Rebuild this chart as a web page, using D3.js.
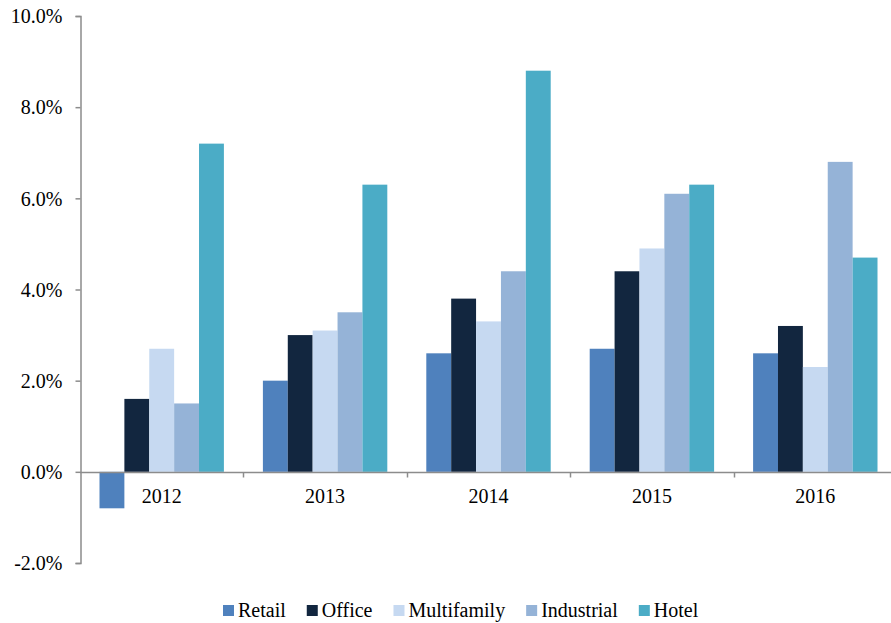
<!DOCTYPE html>
<html>
<head>
<meta charset="utf-8">
<script src="https://cdn.jsdelivr.net/npm/d3@7/dist/d3.min.js"></script>
<style>
  html, body { margin: 0; padding: 0; background: #fff; }
  svg { display: block; }
  svg text { font-family: "Liberation Serif", "Times New Roman", serif !important; fill: #000; }
</style>
</head>
<body>
<div id="chart"></div>
<script>
// Annual growth by property type, 2012–2016 (percent)
const years = ["2012", "2013", "2014", "2015", "2016"];
const seriesNames = ["Retail", "Office", "Multifamily", "Industrial", "Hotel"];
const retail      = [-0.8, 2.0, 2.6, 2.7, 2.6];
const office      = [1.6, 3.0, 3.8, 4.4, 3.2];
const multifamily = [2.7, 3.1, 3.3, 4.9, 2.3];
const industrial  = [1.5, 3.5, 4.4, 6.1, 6.8];
const hotel       = [7.2, 6.3, 8.8, 6.3, 4.7];
const colors = ["#4F81BD", "#12263F", "#C6D9F1", "#95B3D7", "#4BACC6"];
const yTicks = [-2, 0, 2, 4, 6, 8, 10];

const seriesValues = [retail, office, multifamily, industrial, hotel];

const W = 891, H = 623;
const FS = 20;
const FONT = "'Liberation Serif', 'Times New Roman', serif";
const svg = d3.select("#chart").append("svg").attr("width", W).attr("height", H);

const x0 = d3.scaleBand().domain(years).range([80, 897]).padding(0);
const bw = x0.bandwidth();
const x1 = d3.scaleBand().domain(seriesNames).range([19.5, bw - 19.5]).padding(0);
const y = d3.scaleLinear().domain([-2, 10]).range([563, 16]);

const axisColor = "#8c8c8c";

// Bars
const groups = svg.append("g").selectAll("g")
  .data(years)
  .join("g")
  .attr("transform", d => `translate(${x0(d)},0)`);

groups.selectAll("rect")
  .data((d, i) => seriesNames.map((s, k) => ({ s, v: seriesValues[k][i], k })))
  .join("rect")
  .attr("x", d => x1(d.s))
  .attr("width", x1.bandwidth())
  .attr("y", d => y(Math.max(0, d.v)))
  .attr("height", d => Math.abs(y(d.v) - y(0)))
  .attr("fill", d => colors[d.k]);

// Y axis
const yAxis = svg.append("g")
  .attr("transform", "translate(80.5,0)")
  .call(d3.axisLeft(y).tickValues(yTicks).tickFormat(d => d.toFixed(1) + "%").tickSizeOuter(0).tickSize(5).tickPadding(13))
  .attr("font-family", FONT)
  .attr("font-size", FS);
yAxis.select(".domain").attr("stroke", axisColor).attr("stroke-width", 1.5);
yAxis.selectAll(".tick line").attr("stroke", axisColor).attr("stroke-width", 1.5);
yAxis.selectAll(".tick text").style("font-family", FONT).attr("font-size", FS).attr("fill", "#000").attr("dy", "0.34em");

// X axis at zero, with category boundary ticks
const zeroY = Math.round(y(0)) + 0.5;
svg.append("line")
  .attr("x1", 80).attr("x2", W).attr("y1", zeroY).attr("y2", zeroY)
  .attr("stroke", axisColor).attr("stroke-width", 1.5);
svg.append("g").selectAll("line")
  .data(years.slice(1))
  .join("line")
  .attr("x1", d => Math.round(x0(d)) + 0.5).attr("x2", d => Math.round(x0(d)) + 0.5)
  .attr("y1", zeroY).attr("y2", zeroY + 5)
  .attr("stroke", axisColor).attr("stroke-width", 1.5);

svg.append("g").selectAll("text")
  .data(years)
  .join("text")
  .attr("x", d => x0(d) + bw / 2)
  .attr("y", 503)
  .attr("text-anchor", "middle")
  .attr("font-size", FS)
  .style("font-family", FONT)
  .text(d => d);

// Legend
const legend = svg.append("g");
let lx = 223;
seriesNames.forEach((s, k) => {
  legend.append("rect").attr("x", lx).attr("y", 605).attr("width", 11).attr("height", 11).attr("fill", colors[k]);
  const t = legend.append("text").attr("x", lx + 15).attr("y", 617)
    .attr("font-size", FS).style("font-family", FONT).text(s);
  lx += 15 + t.node().getComputedTextLength() + 21;
});
</script>
</body>
</html>
